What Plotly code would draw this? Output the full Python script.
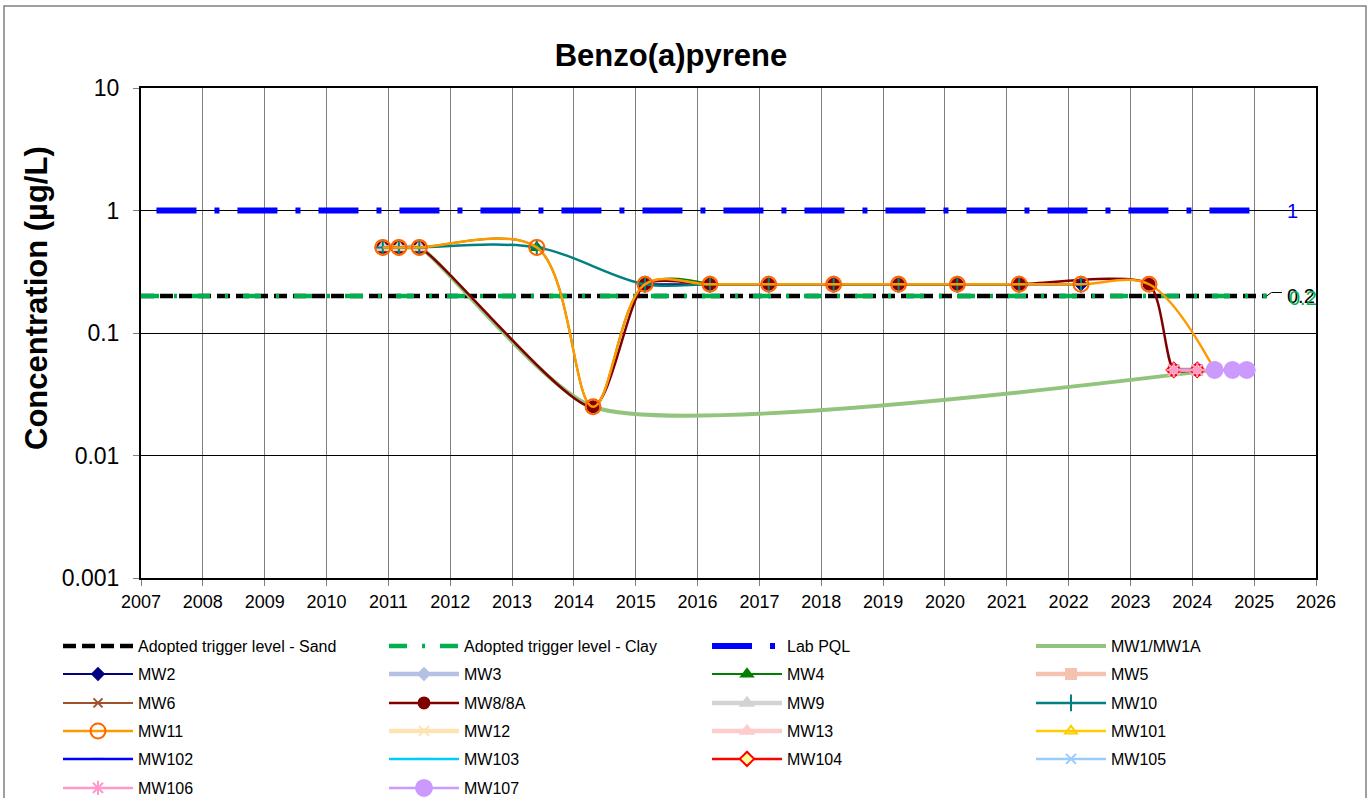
import plotly.graph_objects as go

# ---- guideline levels (µg/L) ----
guide_years = [2007.0, 2025.2]
pql_years = [2007.25, 2025.15]
sand_level = [0.2, 0.2]
clay_level = [0.2, 0.2]
pql_level = [1.0, 1.0]

# ---- monitoring well results: sample date (decimal year) and concentration (µg/L) ----
mw1_x = [2010.91, 2011.17, 2011.5, 2014.31, 2024.36]
mw1_y = [0.5, 0.5, 0.5, 0.025, 0.05]
mw2_x = [2015.15, 2016.2, 2017.15, 2018.2, 2019.25, 2020.2, 2021.25, 2022.2]
mw2_y = [0.25, 0.25, 0.25, 0.25, 0.25, 0.25, 0.25, 0.25]
mw3_x = [2010.91, 2011.17, 2011.5]
mw3_y = [0.5, 0.5, 0.5]
mw4_x = [2010.91, 2011.17, 2011.5, 2013.4, 2014.31, 2015.15, 2016.2]
mw4_y = [0.5, 0.5, 0.5, 0.5, 0.025, 0.25, 0.25]
mw5_x = [2023.7, 2024.08]
mw5_y = [0.05, 0.05]
mw6_x = [2010.91, 2011.17, 2011.5]
mw6_y = [0.5, 0.5, 0.5]
mw8_x = [2010.91, 2011.17, 2011.5, 2014.31, 2015.15, 2016.2, 2017.15, 2018.2,
         2019.25, 2020.2, 2021.2, 2023.3, 2023.7, 2024.08]
mw8_y = [0.5, 0.5, 0.5, 0.025, 0.25, 0.25, 0.25, 0.25,
         0.25, 0.25, 0.25, 0.25, 0.05, 0.05]
mw9_x = [2010.91, 2011.17, 2011.5]
mw9_y = [0.5, 0.5, 0.5]
mw10_x = [2010.91, 2011.17, 2011.5, 2013.4, 2015.15, 2016.2, 2017.15, 2018.2,
          2019.25, 2020.2, 2021.2, 2022.2]
mw10_y = [0.5, 0.5, 0.5, 0.5, 0.25, 0.25, 0.25, 0.25,
          0.25, 0.25, 0.25, 0.25]
mw11_x = [2010.91, 2011.17, 2011.5, 2013.4, 2014.31, 2015.15, 2016.2, 2017.15,
          2018.2, 2019.25, 2020.2, 2021.2, 2022.2, 2023.3, 2024.36]
mw11_y = [0.5, 0.5, 0.5, 0.5, 0.025, 0.25, 0.25, 0.25,
          0.25, 0.25, 0.25, 0.25, 0.25, 0.25, 0.05]
mw12_x = [2024.36, 2024.65, 2024.88]
mw12_y = [0.05, 0.05, 0.05]
mw13_x = [2023.7, 2024.08]
mw13_y = [0.05, 0.05]
mw101_x = [2023.7, 2024.08]
mw101_y = [0.05, 0.05]
mw102_x = [2023.7, 2024.08]
mw102_y = [0.05, 0.05]
mw103_x = [2023.7, 2024.08]
mw103_y = [0.05, 0.05]
mw104_x = [2023.7, 2024.08]
mw104_y = [0.05, 0.05]
mw105_x = [2023.7, 2024.08]
mw105_y = [0.05, 0.05]
mw106_x = [2023.7, 2024.08, 2024.36]
mw106_y = [0.05, 0.05, 0.05]
mw107_x = [2024.36, 2024.65, 2024.88]
mw107_y = [0.05, 0.05, 0.05]

year_ticks = list(range(2007, 2027))
conc_ticks = [0.001, 0.01, 0.1, 1, 10]
conc_tick_labels = ["0.001", "0.01", "0.1", "1", "10"]

FONT = "Liberation Sans, Arial, sans-serif"

# name, x, y, line colour, line width, marker symbol, marker size, marker fill, marker outline, smoothing
wells = [
    ("MW1/MW1A", mw1_x, mw1_y, "#93C47D", 4, None, 0, None, None, 0.6),
    ("MW2", mw2_x, mw2_y, "#000080", 2, "diamond", 9, "#000080", "#000080", 1),
    ("MW3", mw3_x, mw3_y, "#B4C0E4", 4.5, "diamond", 9, "#B4C0E4", "#B4C0E4", 1),
    ("MW4", mw4_x, mw4_y, "#008000", 2, "triangle-up", 10, "#008000", "#008000", 1),
    ("MW5", mw5_x, mw5_y, "#F4C2AE", 4.5, "square", 10, "#F4C2AE", "#F4C2AE", 1),
    ("MW6", mw6_x, mw6_y, "#A0522D", 2, "x-thin", 9, "#A0522D", "#A0522D", 1),
    ("MW8/8A", mw8_x, mw8_y, "#800000", 2.5, "circle", 11, "#800000", "#800000", 0.65),
    ("MW9", mw9_x, mw9_y, "#D3D3D3", 4.5, "triangle-up", 11, "#D3D3D3", "#D3D3D3", 1),
    ("MW10", mw10_x, mw10_y, "#008080", 2.5, "cross-thin", 12, "#008080", "#008080", 1),
    ("MW11", mw11_x, mw11_y, "#FF9900", 2.5, "circle-open", 15, "#FF6600", "#FF6600", 1),
    ("MW12", mw12_x, mw12_y, "#FFE2B4", 4.5, "x-thin", 10, "#FFE2B4", "#FFE2B4", 1),
    ("MW13", mw13_x, mw13_y, "#FFCCCC", 4.5, "triangle-up", 11, "#FFCCCC", "#FFCCCC", 1),
    ("MW101", mw101_x, mw101_y, "#FFCC00", 2.5, "triangle-up-open", 10, "#FFCC00", "#FFCC00", 1),
    ("MW102", mw102_x, mw102_y, "#0000FF", 2.5, "line-ew", 8, "#0000FF", "#0000FF", 1),
    ("MW103", mw103_x, mw103_y, "#00CCFF", 2.5, "line-ew", 8, "#00CCFF", "#00CCFF", 1),
    ("MW104", mw104_x, mw104_y, "#FF0000", 2.5, "diamond", 11, "#FFFF99", "#FF0000", 1),
    ("MW105", mw105_x, mw105_y, "#99CCFF", 2.5, "x-thin", 10, "#99CCFF", "#99CCFF", 1),
    ("MW106", mw106_x, mw106_y, "#FF99CC", 2.5, "asterisk", 12, "#FF99CC", "#FF99CC", 1),
    ("MW107", mw107_x, mw107_y, "#CC99FF", 2.5, "circle", 16, "#CC99FF", "#CC99FF", 1),
]

fig = go.Figure()

traces = [
    go.Scatter(x=guide_years, y=sand_level, mode="lines", name="Adopted trigger level - Sand",
               line=dict(color="#000000", width=4.5, dash="13px,6px")),
    go.Scatter(x=guide_years, y=clay_level, mode="lines", name="Adopted trigger level - Clay",
               line=dict(color="#00B050", width=4.5, dash="18px,15px,3px,15px")),
    go.Scatter(x=pql_years, y=pql_level, mode="lines", name="Lab PQL",
               line=dict(color="#0000FF", width=6, dash="40px,18px,5px,18px")),
]
for name, xs, ys, col, w, sym, size, fill, outline, smooth in wells:
    if sym is None:
        traces.append(go.Scatter(x=xs, y=ys, mode="lines", name=name,
                                 line=dict(color=col, width=w, shape="spline", smoothing=smooth)))
    else:
        traces.append(go.Scatter(
            x=xs, y=ys, mode="lines+markers", name=name,
            line=dict(color=col, width=w, shape="spline", smoothing=smooth),
            marker=dict(symbol=sym, size=size, color=fill,
                        line=dict(color=outline, width=2))))

# legend grid: four columns, one legend box per entry
col_left = [58, 384, 707, 1031]
row_centres = [646, 674, 703, 731, 759, 788]
legends = {}
for i, tr in enumerate(traces):
    key = "legend" if i == 0 else f"legend{i + 1}"
    tr.legend = key
    fig.add_trace(tr)
    legends[key] = dict(orientation="h", xref="container", yref="container",
                        x=col_left[i % 4] / 1371, xanchor="left",
                        y=1 - row_centres[i // 4] / 798, yanchor="middle",
                        font=dict(family=FONT, size=16, color="#000000"),
                        bgcolor="rgba(0,0,0,0)", borderwidth=0, itemwidth=70)

# leader line for the trigger-level label
fig.add_trace(go.Scatter(x=[2025.2, 2025.28, 2025.45], y=[0.2, 0.214, 0.214], mode="lines",
                         line=dict(color="#000000", width=1), showlegend=False, hoverinfo="skip"))

fig.update_layout(
    width=1371, height=798,
    margin=dict(l=141, r=55, t=88, b=220),
    paper_bgcolor="#FFFFFF", plot_bgcolor="#FFFFFF",
    font=dict(family=FONT, color="#000000"),
    title=dict(text="<b>Benzo(a)pyrene</b>", font=dict(family=FONT, size=31, color="#000000"),
               x=671 / 1371, xanchor="center", xref="container",
               y=1 - 55 / 798, yanchor="middle", yref="container"),
    xaxis=dict(range=[2007, 2026], tickmode="array", tickvals=year_ticks,
               ticktext=[str(y) for y in year_ticks],
               tickfont=dict(family=FONT, size=18, color="#000000"),
               showgrid=True, gridcolor="#7F7F7F", gridwidth=1.3,
               showline=True, linecolor="#000000", linewidth=2, mirror=True,
               ticks="outside", ticklen=6, tickcolor="#7F7F7F", zeroline=False),
    yaxis=dict(type="log", range=[-3, 1], tickmode="array", tickvals=conc_ticks,
               ticktext=conc_tick_labels,
               tickfont=dict(family=FONT, size=23, color="#000000"),
               ticklabelstandoff=9,
               showgrid=True, gridcolor="#000000", gridwidth=1,
               showline=True, linecolor="#000000", linewidth=2, mirror=True,
               ticks="outside", ticklen=6, tickcolor="#7F7F7F", zeroline=False),
    showlegend=True,
    **legends,
)

# axis title
fig.add_annotation(text="<b>Concentration (µg/L)</b>", textangle=-90,
                   xref="paper", yref="paper", x=(36 - 141) / 1175, y=(578 - 298) / 490,
                   xanchor="center", yanchor="middle",
                   showarrow=False, font=dict(family=FONT, size=31, color="#000000"))

# value labels at the end of the guideline lines
fig.add_annotation(text="1", x=2025.62, y=0, xref="x", yref="y", showarrow=False,
                   font=dict(family=FONT, size=20, color="#0000FF"))
fig.add_annotation(text="0.2", x=2025.78, y=-0.699, xref="x", yref="y", showarrow=False,
                   font=dict(family=FONT, size=20, color="#000000"), xshift=-1)
fig.add_annotation(text="0.2", x=2025.78, y=-0.699, xref="x", yref="y", showarrow=False,
                   font=dict(family=FONT, size=20, color="#00B050"), xshift=1, yshift=-2)

# chart frame
fig.add_shape(type="rect", xref="paper", yref="paper",
              x0=(4 - 141) / 1175, x1=(1366 - 141) / 1175,
              y0=(578 - 830) / 490, y1=(578 - 6) / 490,
              line=dict(color="#808080", width=1.5), fillcolor="rgba(0,0,0,0)", layer="below")

fig.write_html("out.html")
